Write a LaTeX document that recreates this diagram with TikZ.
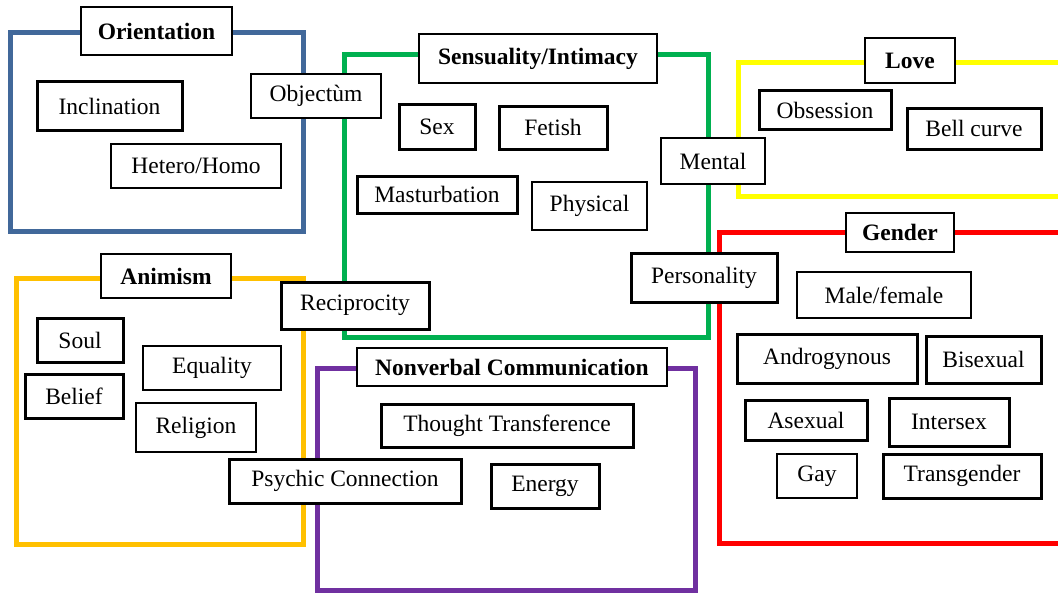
\documentclass[tikz,border=0pt]{standalone}
\usepackage{fontspec}
\setmainfont{Liberation Serif}
\definecolor{cBlue}{HTML}{41689A}
\definecolor{cGreen}{HTML}{00B050}
\definecolor{cYellow}{HTML}{FFFF00}
\definecolor{cRed}{HTML}{FF0000}
\definecolor{cOrange}{HTML}{FFC000}
\definecolor{cPurple}{HTML}{7030A0}
\newcommand\cbox[7][thinbox]{\node[#1, minimum width={(#5)-(#3)}, minimum height={(#6)-(#4)}] (#2) at ({((#3)+(#5))/2},{((#4)+(#6))/2}) {#7};}
\tikzset{
  basebox/.style={draw=black, fill=white, inner sep=0pt, font=\fontsize{23.5}{27}\selectfont},
  thinbox/.style={basebox, line width=2pt},
  thickbox/.style={basebox, line width=3pt},
  titlebox/.style={basebox, line width=2.6pt, font=\fontsize{23.5}{27}\selectfont\bfseries},
  frame/.style={line width=5pt}
}
\begin{document}
\begin{tikzpicture}[x=1pt,y=-1pt]
\useasboundingbox (0,0) rectangle (1058,594);
\clip (0,0) rectangle (1058,594);
\fill[white] (0,0) rectangle (1058,594);
% frames
\draw[frame, cBlue]   (10,33) rectangle (303,231);
\draw[frame, cGreen]  (344,55) rectangle (708,337);
\draw[frame, cYellow] (738,63) rectangle (1075,196);
\draw[frame, cRed]    (719,232) rectangle (1075,543);
\draw[frame, cOrange] (16,278) rectangle (303,544);
\draw[frame, cPurple] (317,368) rectangle (695,590);
% Orientation
\cbox[titlebox]{orient}{81}{7}{232}{55}{Orientation}
\cbox[thickbox]{incl}{37}{82}{182}{130}{Inclination}
\cbox[thinbox]{hetero}{111}{144}{281}{188}{Hetero/Homo}
\cbox[thinbox]{objectum}{251}{74}{381}{118}{Objectùm}
% Sensuality
\cbox[titlebox]{sens}{419}{34}{657}{83}{Sensuality/Intimacy}
\cbox[thickbox]{sex}{399}{104}{475}{149}{Sex}
\cbox[thickbox]{fetish}{499}{106}{607}{149}{Fetish}
\cbox[thickbox]{mast}{357}{176}{517}{213}{Masturbation}
\cbox[thinbox]{phys}{532}{182}{647}{230}{Physical}
\cbox[thinbox]{mental}{661}{138}{765}{184}{Mental}
\cbox[thickbox]{person}{631}{253}{777}{302}{Personality}
\cbox[thickbox]{recip}{281}{282}{429}{329}{Reciprocity}
% Love
\cbox[titlebox]{love}{865}{38}{955}{83}{Love}
\cbox[thickbox]{obsess}{759}{91}{891}{129}{Obsession}
\cbox[thickbox]{bell}{907}{108}{1041}{149}{Bell curve}
% Gender
\cbox[titlebox]{gender}{846}{213}{954}{252}{Gender}
\cbox[thinbox]{malefem}{797}{272}{971}{318}{Male/female}
\cbox[thickbox]{andro}{737}{334}{917}{383}{Androgynous}
\cbox[thickbox]{bisex}{926}{336}{1041}{383}{Bisexual}
\cbox[thickbox]{asex}{745}{400}{867}{440}{Asexual}
\cbox[thickbox]{inter}{889}{398}{1009}{446}{Intersex}
\cbox[thinbox]{gay}{777}{454}{857}{498}{Gay}
\cbox[thickbox]{trans}{883}{454}{1041}{498}{Transgender}
% Animism
\cbox[titlebox]{anim}{101}{254}{231}{298}{Animism}
\cbox[thickbox]{soul}{37}{318}{123}{362}{Soul}
\cbox[thickbox]{belief}{25}{374}{123}{418}{Belief}
\cbox[thinbox]{equal}{143}{346}{281}{390}{Equality}
\cbox[thinbox]{relig}{136}{403}{256}{452}{Religion}
% Nonverbal
\cbox[titlebox]{nonverb}{357}{348}{667}{386}{Nonverbal Communication}
\cbox[thickbox]{thought}{381}{404}{633}{447}{Thought Transference}
\cbox[thickbox]{energy}{491}{464}{599}{508}{Energy}
\cbox[thickbox]{psychic}{229}{459}{461}{503}{Psychic Connection}
\end{tikzpicture}
\end{document}
